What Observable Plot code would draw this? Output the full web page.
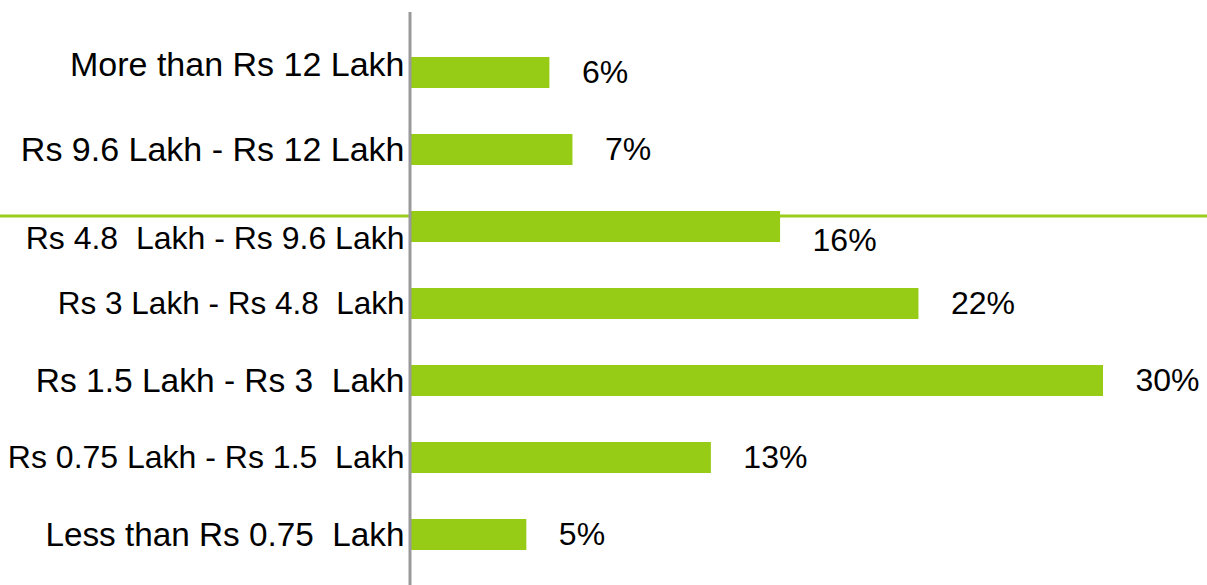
<!DOCTYPE html>
<html>
<head>
<meta charset="utf-8">
<script src="https://cdn.jsdelivr.net/npm/d3@7"></script>
<script src="https://cdn.jsdelivr.net/npm/@observablehq/plot@0.6"></script>
<style>
  html, body { margin: 0; padding: 0; background: #fff; }
  #chart svg text { white-space: pre; }
</style>
</head>
<body>
<div id="chart"></div>
<script>
// Income brackets (top to bottom) and share of respondents in each, in percent
const brackets = [
  "More than Rs 12 Lakh",
  "Rs 9.6 Lakh - Rs 12 Lakh",
  "Rs 4.8  Lakh - Rs 9.6 Lakh",
  "Rs 3 Lakh - Rs 4.8  Lakh",
  "Rs 1.5 Lakh - Rs 3  Lakh",
  "Rs 0.75 Lakh - Rs 1.5  Lakh",
  "Less than Rs 0.75  Lakh"
];
const shares = [6, 7, 16, 22, 30, 13, 5];

const rows = brackets.map((bracket, i) => ({bracket, share: shares[i]}));

const green = "#96cb16";
const font = "Liberation Sans, Arial, Helvetica, sans-serif";

// per-label type size and small vertical nudges for the bracket labels
const labelSize = [34, 34, 32, 31.5, 33.5, 32, 33.3];
const labelShift = [-8, 0, 12, 0, 0, 0, 0];
const valueShift = [0, 0, 14, 0, 0, 0, 0];

const labelMarks = rows.map((d, i) =>
  Plot.text([d], {
    x: 0, y: "bracket", text: "bracket", textAnchor: "end",
    dx: -7, dy: labelShift[i], fontSize: labelSize[i], fill: "#000"
  }));

const valueMarks = rows.map((d, i) =>
  Plot.text([d], {
    x: "share", y: "bracket", text: r => `${r.share}%`, textAnchor: "start",
    dx: 32, dy: valueShift[i], fontSize: 32, fill: "#000"
  }));

const chart = Plot.plot({
  width: 1207,
  height: 585,
  marginLeft: 0,
  marginRight: 0,
  marginTop: 12,
  marginBottom: 0,
  style: {fontFamily: font, background: "#fff"},
  x: {domain: [0, 30], range: [411, 1103], axis: null},
  y: {domain: brackets, range: [10, 596], padding: 0.6, axis: null},
  marks: [
    // green divider across the full width
    Plot.ruleY([brackets[2]], {y: d => d, dy: -11, stroke: "#9acd1c", strokeWidth: 3}),
    Plot.barX(rows, {x: "share", y: "bracket", fill: green}),
    Plot.ruleX([0], {dx: -1.5, stroke: "#999999", strokeWidth: 3}),
    ...labelMarks,
    ...valueMarks
  ]
});

document.getElementById("chart").appendChild(chart);
</script>
</body>
</html>
